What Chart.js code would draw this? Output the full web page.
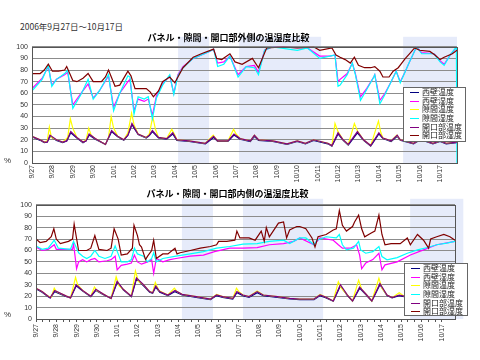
<!DOCTYPE html>
<html>
<head>
<meta charset="utf-8">
<script src="https://cdn.jsdelivr.net/npm/chart.js@4.4.1/dist/chart.umd.min.js"></script>
<style>
  body { margin: 0; background: #fff; width: 480px; height: 360px; position: relative; overflow: hidden; }
  canvas { position: absolute; left: 0; }
  #period { position: absolute; left: 20px; top: 20px; font: 8.5px "Noto Sans CJK JP", sans-serif; color: #333; white-space: nowrap; }
  .unit { position: absolute; font: 8px "Liberation Sans", sans-serif; color: #333; }
  .legend { position: absolute; background: #fff; border: 1px solid #666; box-sizing: border-box; padding: 0 1px 0 6px;
            font-family: "Noto Sans CJK JP", sans-serif; font-size: 8px; color: #222; }
  .legend .row { position: relative; height: 8.7px; line-height: 8.7px; white-space: nowrap; padding-left: 12px; }
  .legend .swatch { position: absolute; left: 0; top: 4px; width: 9px; height: 1px; }
</style>
</head>
<body>
<div id="period">2006年9月27日〜10月17日</div>
<canvas id="chartOuter" width="480" height="158" style="top:30px"></canvas>
<canvas id="chartInner" width="480" height="174" style="top:186px"></canvas>
<div class="unit" style="left:4px; top:156px">%</div>
<div class="unit" style="left:4px; top:310px">%</div>
<div id="legendOuter" class="legend" style="left:403px; top:87px; width:63px; height:55px"></div>
<div id="legendInner" class="legend" style="left:404px; top:263px; width:64px; height:53px"></div>
<script>
// x = days since 9/27 0:00
const dateLabels = ["9/27", "9/28", "9/29", "9/30", "10/1", "10/2", "10/3", "10/4", "10/5", "10/6", "10/7",
  "10/8", "10/9", "10/10", "10/11", "10/12", "10/13", "10/14", "10/15", "10/16", "10/17"];
const seriesNames = ["西壁温度", "西壁湿度", "隙間温度", "隙間湿度", "開口部温度", "開口部湿度"];
const seriesColors = ["#000080", "#ff00ff", "#ffff00", "#00ffff", "#800080", "#800000"];

// ---- outside (top chart) ----
const outerWestTemp = [[0,22.5],[0.4,19.5],[0.6,17.5],[0.75,18],[0.88,23],[1.2,19.5],[1.5,17.5],[1.7,19],[1.9,26],[2.2,21.5],[2.5,17.5],[2.65,19],[2.8,24],[3.1,20.5],[3.6,16],[3.9,27],[4.2,22.5],[4.5,19.5],[4.7,24],[4.9,33],[5.2,24.5],[5.6,21.5],[5.75,23.5],[5.9,27],[6.2,21.5],[6.6,20.5],[6.9,25],[7.1,19.5],[7.7,18.5],[8.5,16.5],[8.9,22],[9.1,18.5],[9.6,18.5],[9.9,24],[10.2,20.5],[10.7,18.5],[10.9,23],[11.1,19.5],[11.8,18.5],[12.5,16],[13.0,18.5],[13.4,16.5],[13.8,19.5],[14.5,16.5],[14.7,14.5],[15.0,25],[15.25,19.5],[15.5,15.5],[15.95,26],[16.25,19.5],[16.6,14.5],[17.0,25],[17.2,21],[17.6,18.5],[17.9,23],[18.05,19.5],[18.7,16.5],[19.0,19.5],[19.3,18.5],[19.65,16.5],[20.0,18.5],[20.3,16.5],[20.83,17.5]];
const outerWestHum = [[0,64],[0.5,73],[0.8,83],[0.97,67],[1.2,72],[1.6,76],[1.75,78],[2.0,50],[2.4,60],[2.75,68],[3.0,56],[3.3,62],[3.75,75],[4.0,48],[4.3,60],[4.7,70],[4.8,72],[5.0,45],[5.2,55],[5.5,53],[5.7,55],[5.9,41],[6.1,58],[6.4,68],[6.75,75],[6.95,60],[7.15,76],[7.4,83],[7.9,90],[8.7,96],[8.9,98],[9.1,86],[9.4,87],[9.7,92],[10.1,76],[10.5,83],[10.9,84],[11.1,78],[11.4,97],[11.8,100],[13.5,99],[14.1,92],[14.6,92],[14.85,93],[15.0,70],[15.1,72],[15.45,77],[15.7,86],[15.85,77],[16.1,57],[16.4,64],[16.75,74],[16.8,76],[17.05,54],[17.3,60],[17.6,70],[17.85,79],[18.05,70],[18.3,79],[18.5,87],[18.85,100],[19.1,95],[19.7,94],[20.0,88],[20.2,85],[20.5,93],[20.83,100]];
const outerGapTemp = [[0,23],[0.4,20],[0.6,18],[0.75,19],[0.85,31],[0.95,22],[1.2,20],[1.5,18],[1.75,22],[1.88,38],[2.0,30],[2.2,22],[2.5,18],[2.65,20],[2.78,30],[2.9,24],[3.1,21],[3.6,16],[3.75,22],[3.88,40],[4.0,30],[4.2,23],[4.5,20],[4.7,26],[4.88,43],[5.0,33],[5.2,25],[5.6,22],[5.75,25],[5.92,40],[6.05,29],[6.2,22],[6.6,21],[6.85,29],[7.0,24],[7.1,20],[7.7,19],[8.5,17],[8.88,24],[9.1,19],[9.6,19],[9.88,29],[10.0,25],[10.2,21],[10.7,19],[10.9,24],[11.1,20],[11.8,19],[12.5,16.5],[13.0,19],[13.4,17],[13.8,20],[14.5,17],[14.7,15],[14.85,34],[15.0,27],[15.25,20],[15.5,16],[15.8,34],[15.97,27],[16.25,20],[16.6,15],[16.98,36],[17.1,26],[17.2,21.5],[17.6,19],[17.88,24],[18.05,20],[18.7,17],[19.0,20],[19.3,19],[19.65,17],[20.0,19],[20.3,17],[20.83,18]];
const outerGapHum = [[0,62],[0.5,72],[0.8,84],[0.97,66],[1.2,72],[1.6,77],[1.75,80],[2.0,47],[2.4,59],[2.75,72],[3.0,55],[3.3,62],[3.75,76],[4.0,45],[4.3,60],[4.7,75],[4.8,74],[5.0,42],[5.2,57],[5.5,55],[5.7,57],[5.9,38],[6.1,56],[6.4,67],[6.75,76],[6.95,59],[7.15,75],[7.4,82],[7.9,90],[8.7,96],[8.9,98],[9.1,83],[9.4,85],[9.7,92],[10.1,74],[10.5,83],[10.9,82],[11.1,76],[11.4,97],[11.8,100],[13.0,97],[13.5,99],[14.1,90],[14.6,92],[14.85,93],[15.0,66],[15.1,67],[15.45,76],[15.7,86],[15.85,76],[16.1,54],[16.4,63],[16.75,74],[16.8,76],[17.05,51],[17.3,59],[17.6,70],[17.85,79],[18.05,69],[18.3,79],[18.5,87],[18.85,100],[19.1,94],[19.7,94],[20.0,87],[20.2,84],[20.5,93],[20.8,100],[20.83,0]];
const outerOpenTemp = [[0,23],[0.4,20],[0.6,18],[0.75,18],[0.88,24],[1.2,20],[1.5,18],[1.7,19],[1.9,27],[2.2,22],[2.5,18],[2.65,19],[2.8,25],[3.1,21],[3.6,16],[3.9,28],[4.2,23],[4.5,20],[4.7,24],[4.9,34],[5.2,25],[5.6,22],[5.75,24],[5.9,28],[6.2,22],[6.6,21],[6.9,26],[7.1,20],[7.7,19],[8.5,17],[8.9,23],[9.1,19],[9.6,19],[9.9,25],[10.2,21],[10.7,19],[10.9,24],[11.1,20],[11.8,19],[12.5,16.5],[13.0,19],[13.4,17],[13.8,20],[14.5,17],[14.7,15],[15.0,26],[15.25,20],[15.5,16],[15.95,27],[16.25,20],[16.6,15],[17.0,26],[17.2,21.5],[17.6,19],[17.9,24],[18.05,20],[18.7,17],[19.0,20],[19.3,19],[19.65,17],[20.0,19],[20.3,17],[20.83,18]];
const outerOpenHum = [[0,77],[0.4,77],[0.6,80],[0.8,85],[1.0,79],[1.3,79],[1.6,80],[1.7,83],[2.0,71],[2.2,70],[2.5,73],[2.75,77],[3.0,70],[3.4,70],[3.6,74],[3.75,80],[4.07,66],[4.3,67],[4.5,73],[4.7,79],[4.85,75],[5.05,64],[5.6,64],[5.8,61],[5.95,57],[6.2,62],[6.4,70],[6.75,74],[7.0,69],[7.4,82],[7.9,91],[8.3,94],[8.9,98],[9.05,90],[9.3,89],[9.7,94],[9.95,87],[10.3,85],[10.8,90],[11.1,82],[11.5,99],[12.3,100],[13.0,99],[13.8,100],[14.1,97],[14.7,99],[14.9,93],[15.1,91],[15.35,89],[15.6,86],[15.8,91],[16.0,84],[16.3,82],[16.6,82],[16.8,83],[17.05,79],[17.2,74],[17.5,74],[17.7,79],[17.95,82],[18.3,90],[18.5,94],[18.75,99],[19.0,97],[19.5,96],[19.75,93],[20.0,89],[20.2,91],[20.6,94],[20.83,97]];
const outerBands = [[7.16, 8.68], [10.15, 14.17], [18.19, 20.83]];

// ---- inside (bottom chart) ----
const innerWestTemp = [[0,26.5],[0.3,23.5],[0.6,19.5],[0.7,18.5],[0.92,24],[1.5,19.5],[1.7,18.5],[1.98,29],[2.3,24.5],[2.7,19.5],[2.95,25],[3.3,21.5],[3.7,18],[4.0,32],[4.3,25.5],[4.7,19.5],[4.95,35],[5.3,29],[5.6,23.5],[5.75,22.5],[5.9,28],[6.1,23.5],[6.5,20.5],[6.85,24],[7.2,21],[7.9,19],[8.6,17],[8.9,20.5],[9.2,19],[9.7,17.5],[9.9,23],[10.2,20.5],[10.5,19],[10.9,23],[11.2,20.5],[11.9,19],[12.5,17.5],[13.0,17],[13.7,17],[14.0,20.5],[14.3,18.5],[14.65,15.5],[15.0,29],[15.35,20.5],[15.6,15.5],[15.95,27],[16.3,20.5],[16.55,15.5],[16.95,30],[17.3,20.5],[17.55,18.5],[17.9,20.5],[18.15,19.5],[18.45,19],[19.0,17.5],[19.5,16.5],[20.0,16.5],[20.65,15.5]];
const innerWestHum = [[0,63],[0.3,60],[0.6,61],[0.9,65],[1.0,61],[1.8,61],[1.85,66],[2.0,44],[2.1,50],[2.3,52],[2.5,50],[2.7,52],[2.9,53],[3.1,50],[3.5,51],[3.7,52],[3.9,55],[4.0,43],[4.2,47],[4.5,48],[4.7,49],[4.85,56],[5.0,50],[5.2,48],[5.5,50],[5.7,52],[5.8,40],[5.93,53],[6.25,50],[6.6,52],[6.9,53],[7.6,55],[8.25,56],[8.8,59],[9.55,62],[10.2,62],[10.9,62.5],[11.5,65],[12.2,66],[12.7,68],[13.0,71],[13.7,65],[14.0,71],[14.65,69],[14.9,65],[15.1,62],[15.5,62],[15.8,65],[15.95,56],[16.05,44],[16.25,49],[16.6,52],[16.9,57.6],[17.05,43],[17.2,47.4],[17.8,50],[18.45,56],[19.1,60.5],[19.75,65],[20.65,68]];
const innerGapTemp = [[0,27],[0.3,24],[0.6,20],[0.75,19],[0.9,27],[1.0,24],[1.5,20],[1.7,18.5],[1.95,36.5],[2.05,30],[2.3,25],[2.7,20],[2.88,28],[3.0,25],[3.3,22],[3.7,18],[3.95,37],[4.1,29],[4.3,26],[4.7,20],[4.9,42],[5.05,33],[5.3,30],[5.6,24],[5.75,23],[5.88,32],[6.05,25],[6.5,21],[6.82,27],[6.95,24],[7.2,21.6],[7.9,19.6],[8.6,17.5],[8.9,21.5],[9.2,19.6],[9.7,18],[9.88,27],[10.0,24],[10.2,21],[10.5,19.6],[10.9,24.5],[11.2,21],[11.9,19.6],[12.5,18],[13.0,17.5],[13.7,17.5],[14.0,21.5],[14.3,19],[14.65,15.8],[14.9,32.7],[15.05,27],[15.35,21],[15.6,15.8],[15.9,34],[16.05,26],[16.3,21],[16.55,15.8],[16.9,35.7],[17.05,27],[17.3,21],[17.55,18.7],[17.9,23],[18.15,20],[18.45,19.6],[19.0,18],[19.5,17],[20.0,17],[20.65,16]];
const innerGapHum = [[0,64],[0.3,61],[0.6,62],[0.9,69],[1.1,62],[1.7,61],[1.85,68],[2.1,58],[2.3,55],[2.5,53],[2.7,55],[2.9,60],[3.1,55],[3.4,53],[3.7,55],[3.9,64],[4.05,57],[4.2,50],[4.5,50],[4.7,52],[4.85,62],[5.0,57],[5.3,55],[5.5,50],[5.7,53],[5.8,58],[5.93,50],[6.25,53],[6.9,55],[7.6,57],[8.25,59],[8.9,62],[9.55,63.5],[10.2,65.5],[10.9,66],[11.5,68],[12.2,69],[12.5,66],[13.0,71],[13.3,71],[13.7,65],[13.85,69],[14.3,72],[14.8,71],[14.95,74],[15.1,65],[15.3,60.5],[15.65,62],[15.9,68],[16.0,60.5],[16.25,57.6],[16.6,59],[16.9,63.5],[17.05,54.7],[17.3,51.8],[17.8,53.8],[18.3,57.6],[18.8,60.5],[19.3,62.6],[19.75,65],[20.25,66.4],[20.65,68]];
const innerOpenTemp = [[0,27],[0.3,24],[0.6,20],[0.7,18.5],[0.92,25],[1.5,20],[1.7,18.5],[1.98,30],[2.3,25],[2.7,20],[2.95,26],[3.3,22],[3.7,18],[4.0,33],[4.3,26],[4.7,20],[4.95,36],[5.3,30],[5.6,24],[5.75,23],[5.9,29],[6.1,24],[6.5,21],[6.85,25],[7.2,21.6],[7.9,19.6],[8.6,17.5],[8.9,21],[9.2,19.6],[9.7,18],[9.9,24],[10.2,21],[10.5,19.6],[10.9,24],[11.2,21],[11.9,19.6],[12.5,18],[13.0,17.5],[13.7,17.5],[14.0,21],[14.3,19],[14.65,15.8],[15.0,30],[15.35,21],[15.6,15.8],[15.95,28],[16.3,21],[16.55,15.8],[16.95,31],[17.3,21],[17.55,18.7],[17.9,21],[18.15,20],[18.45,19.6],[19.0,18],[19.5,17],[20.0,17],[20.65,16]];
const innerOpenHum = [[0,70],[0.2,67],[0.5,68],[0.75,72],[0.88,79],[1.0,70],[1.2,66],[1.6,68],[1.8,70],[1.88,83],[2.1,60],[2.5,60],[2.7,62],[2.9,73],[3.1,61],[3.5,60],[3.7,62],[3.85,79],[4.05,70],[4.2,56],[4.5,57],[4.75,62],[4.83,82],[5.0,73],[5.1,65],[5.2,63],[5.4,52],[5.5,55],[5.7,60],[5.8,69],[5.93,53],[6.25,57],[6.5,57],[6.85,62],[6.95,57],[7.1,58],[7.6,60],[8.1,62],[8.6,63.5],[8.9,65],[9.0,68],[9.4,68],[9.8,69],[9.9,77],[10.05,71],[10.5,71],[10.8,69],[11.1,77],[11.25,68],[11.35,80],[11.5,72],[11.95,84],[12.2,85],[12.35,71],[12.5,78],[12.85,81],[13.0,81],[13.3,79],[13.6,71],[13.75,63],[13.9,72],[14.3,74],[14.65,78],[14.8,79],[14.95,95],[15.1,82],[15.3,77],[15.6,81],[15.7,85],[15.9,91],[16.05,79],[16.2,72],[16.5,75],[16.7,77],[16.9,91],[17.05,74],[17.2,65],[17.5,66],[17.95,66],[18.3,71],[18.45,65],[18.8,74],[19.1,69],[19.35,62],[19.45,70],[19.75,72],[20.1,74],[20.4,72],[20.65,69]];
const innerBands = [[7.19, 8.72], [10.2, 14.15], [18.44, 21.06]];

const tickFont = { family: '"Liberation Sans", Arial, sans-serif', size: 7 };

// light blue bands behind the grid, and a box round the plot area
const framePlugin = {
  id: "frame",
  beforeDraw(chart, args, opts) {
    const { ctx, chartArea, scales } = chart;
    ctx.save();
    ctx.fillStyle = "#e6ebfa";
    opts.bands.forEach(([from, to]) => {
      const x1 = scales.x.getPixelForValue(from);
      const x2 = scales.x.getPixelForValue(to);
      ctx.fillRect(x1, chartArea.top - opts.above, x2 - x1, chartArea.bottom - chartArea.top + opts.above);
    });
    ctx.restore();
  },
  afterDatasetsDraw(chart) {
    const { ctx, chartArea } = chart;
    ctx.save();
    ctx.strokeStyle = "#555";
    ctx.lineWidth = 1;
    ctx.strokeRect(Math.round(chartArea.left) + 0.5, Math.round(chartArea.top) + 0.5,
      Math.round(chartArea.right - chartArea.left), Math.round(chartArea.bottom - chartArea.top));
    ctx.restore();
  },
};

function makeChart(id, title, series, bands, cfg) {
  const datasets = series.map((points, i) => ({
    label: seriesNames[i],
    data: points.map(([x, y]) => ({ x: x, y: y })),
    borderColor: seriesColors[i],
    backgroundColor: seriesColors[i],
    borderWidth: 1.2,
    pointRadius: 0,
    tension: 0,
    order: series.length - i,
  }));

  const ctx = document.getElementById(id).getContext("2d");
  return new Chart(ctx, {
    type: "line",
    data: { datasets: datasets },
    options: {
      responsive: false,
      animation: false,
      events: [],
      layout: { padding: { left: 0, right: cfg.right, top: 0, bottom: cfg.bottom } },
      plugins: {
        legend: { display: false },
        tooltip: { enabled: false },
        title: {
          display: true,
          text: title,
          color: "#000",
          font: { family: '"Noto Sans CJK JP", sans-serif', size: 9, weight: "bold" },
          padding: { top: cfg.titleTop, bottom: cfg.titleBottom },
        },
        frame: { bands: bands, above: cfg.above },
      },
      scales: {
        x: {
          type: "linear",
          min: 0,
          max: cfg.xMax,
          afterBuildTicks: (scale) => {
            const ticks = [];
            for (let k = 0; k <= 20 * cfg.tickDiv; k++) ticks.push({ value: k / cfg.tickDiv });
            scale.ticks = ticks;
          },
          afterFit: (scale) => { scale.height = cfg.xHeight; },
          grid: { display: true, drawOnChartArea: false, drawTicks: cfg.tickDiv > 1, tickLength: 3, color: "#555" },
          border: { display: false },
          ticks: {
            autoSkip: false,
            minRotation: 90,
            maxRotation: 90,
            padding: 2,
            color: "#333",
            font: tickFont,
            callback: (value) => {
              const i = Math.round(value);
              return Math.abs(value - i) < 1e-6 ? dateLabels[i] : "";
            },
          },
        },
        y: {
          min: 0,
          max: 100,
          afterFit: (scale) => { scale.width = cfg.yWidth; },
          grid: { color: "#8c8c8c", drawTicks: false },
          border: { display: false },
          ticks: { stepSize: 10, padding: 4, color: "#333", font: tickFont },
        },
      },
    },
    plugins: [framePlugin],
  });
}

function buildLegend(elId, chart) {
  const box = document.getElementById(elId);
  chart.data.datasets.forEach((ds) => {
    const row = document.createElement("div");
    row.className = "row";
    const swatch = document.createElement("span");
    swatch.className = "swatch";
    swatch.style.background = ds.borderColor;
    row.appendChild(swatch);
    row.appendChild(document.createTextNode(ds.label));
    box.appendChild(row);
  });
}

const outerChart = makeChart("chartOuter", "パネル・隙間・開口部外側の温湿度比較",
  [outerWestTemp, outerWestHum, outerGapTemp, outerGapHum, outerOpenTemp, outerOpenHum], outerBands,
  { right: 23, bottom: 0, xMax: 20.83, xHeight: 25, yWidth: 32, titleTop: 2, titleBottom: 4, above: 10, tickDiv: 1 });

const innerChart = makeChart("chartInner", "パネル・隙間・開口部内側の温湿度比較",
  [innerWestTemp, innerWestHum, innerGapTemp, innerGapHum, innerOpenTemp, innerOpenHum], innerBands,
  { right: 25, bottom: 13, xMax: 20.65, xHeight: 28, yWidth: 36, titleTop: 2, titleBottom: 6, above: 6, tickDiv: 3 });

buildLegend("legendOuter", outerChart);
buildLegend("legendInner", innerChart);
</script>
</body>
</html>
